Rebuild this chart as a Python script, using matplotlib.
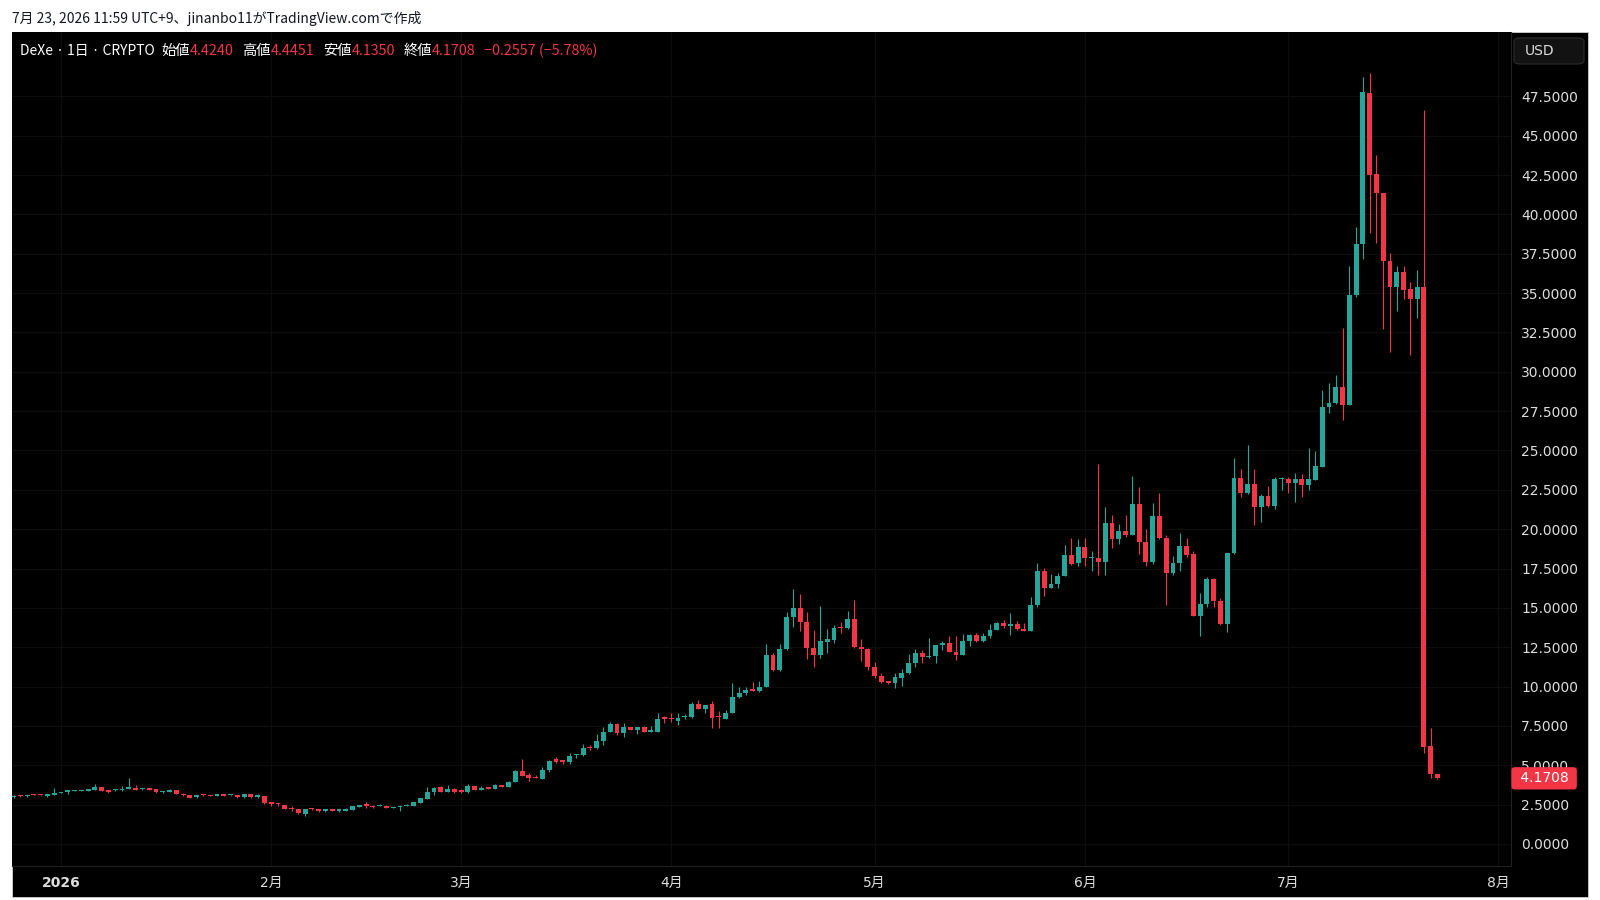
import numpy as np
import pandas as pd
import matplotlib
matplotlib.use('Agg')
import matplotlib.pyplot as plt
import matplotlib.transforms as mtransforms
from matplotlib.patches import FancyBboxPatch, Rectangle

plt.rcParams['font.family'] = ['DejaVu Sans', 'Noto Sans CJK JP']
CJK = ['Noto Sans CJK JP', 'DejaVu Sans']

# ── Data (daily candles, DeXe, 2025-12-25 .. 2026-07-23) ──────────────────────
START = '2025-12-25'

OPENS = [
    2.99, 3.07, 3.03, 3.14, 3.12, 3.03, 3.14, 3.26, 3.33, 3.37,
    3.39, 3.37, 3.45, 3.60, 3.37, 3.41, 3.41, 3.52, 3.58, 3.47,
    3.54, 3.47, 3.28, 3.33, 3.43, 3.20, 3.12, 2.96, 3.14, 3.12,
    3.05, 3.16, 3.09, 3.12, 2.96, 3.16, 2.96, 3.05, 2.65, 2.58,
    2.46, 2.27, 2.22, 1.91, 2.29, 2.20, 2.12, 2.18, 2.12, 2.12,
    2.18, 2.37, 2.48, 2.44, 2.41, 2.44, 2.31, 2.37, 2.41, 2.41,
    2.60, 2.88, 3.30, 3.60, 3.32, 3.52, 3.45, 3.28, 3.66, 3.43,
    3.58, 3.52, 3.73, 3.64, 3.96, 4.66, 4.36, 4.28, 4.15, 4.70,
    5.38, 5.32, 5.19, 5.63, 5.63, 6.18, 6.08, 6.57, 7.14, 7.62,
    7.03, 7.41, 7.24, 7.45, 7.14, 7.14, 8.05, 7.98, 7.81, 8.05,
    8.05, 8.87, 8.60, 8.87, 8.09, 7.96, 8.32, 9.32, 9.61, 9.83,
    9.74, 10.00, 12.03, 11.03, 12.37, 14.44, 14.97, 14.13, 12.45, 11.99,
    12.85, 12.96, 13.77, 13.70, 14.27, 12.49, 12.41, 11.27, 10.67, 10.33,
    10.21, 10.57, 10.84, 11.52, 12.16, 11.90, 11.97, 12.62, 12.75, 12.22,
    12.01, 12.92, 13.30, 12.92, 13.21, 13.60, 14.02, 13.87, 13.98, 13.64,
    13.53, 15.18, 17.35, 16.29, 16.50, 17.03, 18.36, 17.83, 18.89, 18.15,
    18.15, 17.94, 20.41, 19.36, 19.91, 19.63, 21.60, 19.21, 17.94, 20.84,
    19.46, 17.20, 17.83, 18.93, 18.40, 14.48, 15.25, 16.81, 15.44, 13.96,
    18.47, 23.27, 22.28, 22.85, 21.39, 22.11, 21.47, 23.17, 23.21, 22.96,
    23.17, 22.81, 23.13, 23.97, 27.78, 28.00, 29.01, 27.89, 34.88, 38.12,
    47.69, 42.55, 41.34, 37.04, 35.41, 36.36, 35.24, 34.60, 35.37, 6.23,
    4.4240,
]
HIGHS = [
    3.09, 3.08, 3.14, 3.16, 3.13, 3.18, 3.54, 3.32, 3.41, 3.43,
    3.45, 3.51, 3.81, 3.62, 3.39, 3.51, 3.70, 4.17, 3.75, 3.56,
    3.56, 3.50, 3.37, 3.50, 3.45, 3.22, 3.14, 3.11, 3.16, 3.14,
    3.18, 3.18, 3.14, 3.14, 3.18, 3.18, 3.16, 3.07, 2.67, 2.60,
    2.48, 2.41, 2.24, 2.24, 2.31, 2.22, 2.18, 2.20, 2.20, 2.29,
    2.41, 2.50, 2.65, 2.46, 2.52, 2.46, 2.37, 2.46, 2.52, 2.67,
    2.94, 3.64, 3.62, 3.68, 3.75, 3.58, 3.50, 3.79, 3.70, 3.68,
    3.62, 3.81, 3.77, 3.98, 4.70, 5.40, 4.49, 4.38, 4.87, 5.32,
    5.51, 5.36, 5.80, 5.74, 6.35, 6.29, 6.99, 7.41, 7.73, 7.66,
    7.67, 7.45, 7.43, 7.48, 7.50, 8.30, 8.13, 8.30, 8.30, 8.26,
    9.02, 9.15, 8.85, 9.09, 8.45, 8.49, 10.21, 9.95, 10.00, 10.27,
    10.38, 12.71, 12.16, 12.71, 14.72, 16.18, 15.88, 14.76, 13.60, 15.12,
    13.66, 13.91, 14.13, 14.80, 15.50, 13.02, 12.43, 11.58, 10.89, 10.38,
    10.84, 11.10, 12.07, 12.39, 12.33, 13.11, 12.66, 12.90, 13.21, 13.21,
    13.34, 13.32, 13.43, 13.43, 13.98, 14.12, 14.23, 14.65, 14.19, 14.06,
    15.71, 17.87, 17.51, 17.15, 17.24, 19.00, 19.47, 19.36, 19.47, 18.62,
    24.14, 21.43, 20.90, 20.33, 20.90, 23.38, 22.66, 19.99, 21.64, 22.28,
    19.63, 18.32, 19.74, 19.46, 18.64, 15.97, 16.98, 16.88, 15.61, 18.49,
    24.50, 23.80, 25.35, 23.80, 22.24, 22.74, 23.30, 23.34, 23.30, 23.55,
    23.49, 25.14, 24.99, 28.84, 29.27, 29.80, 32.76, 36.72, 39.18, 48.75,
    48.98, 43.77, 41.36, 37.53, 36.72, 36.72, 35.73, 36.47, 46.63, 7.39,
    4.4451,
]
LOWS = [
    2.95, 3.01, 3.01, 3.08, 3.06, 3.01, 3.12, 3.24, 3.18, 3.35,
    3.37, 3.35, 3.43, 3.35, 3.22, 3.39, 3.39, 3.50, 3.41, 3.45,
    3.43, 3.26, 3.24, 3.31, 3.16, 3.03, 2.92, 2.94, 3.07, 3.03,
    3.03, 3.05, 3.07, 2.94, 2.94, 2.94, 2.92, 2.52, 2.41, 2.41,
    2.20, 2.12, 1.93, 1.78, 2.18, 2.06, 2.05, 2.10, 2.03, 2.10,
    2.16, 2.35, 2.31, 2.31, 2.39, 2.27, 2.29, 2.12, 2.39, 2.39,
    2.58, 2.86, 3.11, 3.28, 3.30, 3.26, 3.26, 3.22, 3.41, 3.41,
    3.50, 3.50, 3.62, 3.62, 3.94, 4.30, 3.98, 4.19, 4.13, 4.57,
    5.12, 5.06, 5.06, 5.44, 5.61, 5.97, 6.06, 6.29, 7.12, 6.93,
    6.82, 7.22, 6.99, 7.12, 7.12, 7.12, 7.71, 7.73, 7.56, 7.92,
    8.03, 8.58, 8.30, 7.35, 7.35, 7.94, 8.30, 9.25, 9.47, 9.72,
    9.68, 9.98, 11.01, 11.01, 12.35, 13.77, 13.55, 11.77, 11.22, 11.80,
    12.16, 12.75, 13.43, 13.68, 12.47, 11.65, 11.05, 10.53, 10.21, 10.19,
    9.89, 10.06, 10.80, 11.27, 11.52, 11.80, 11.52, 12.33, 12.20, 11.69,
    11.99, 12.58, 12.83, 12.83, 13.06, 13.58, 13.75, 13.28, 13.62, 13.51,
    13.51, 15.04, 15.75, 16.25, 16.29, 17.01, 17.73, 17.66, 17.66, 17.34,
    17.11, 17.11, 18.83, 19.06, 19.53, 19.61, 18.40, 17.66, 17.77, 19.40,
    15.18, 17.09, 17.37, 18.25, 14.46, 13.21, 15.08, 15.08, 13.94, 13.49,
    18.45, 22.02, 22.26, 20.27, 20.48, 21.39, 21.26, 22.49, 22.28, 21.75,
    22.02, 22.49, 23.11, 23.95, 27.36, 27.98, 26.94, 27.87, 34.77, 37.17,
    38.80, 38.20, 32.70, 31.28, 33.88, 34.60, 31.06, 33.40, 5.76, 4.17,
    4.1350,
]
CLOSES = [
    3.07, 3.03, 3.12, 3.10, 3.08, 3.16, 3.26, 3.30, 3.39, 3.41,
    3.43, 3.49, 3.60, 3.37, 3.33, 3.49, 3.52, 3.60, 3.43, 3.54,
    3.45, 3.28, 3.35, 3.43, 3.18, 3.09, 2.94, 3.09, 3.09, 3.05,
    3.16, 3.07, 3.12, 2.96, 3.16, 2.96, 3.14, 2.60, 2.52, 2.52,
    2.22, 2.22, 1.95, 2.22, 2.20, 2.08, 2.16, 2.12, 2.18, 2.22,
    2.39, 2.48, 2.44, 2.37, 2.48, 2.29, 2.35, 2.44, 2.50, 2.65,
    2.90, 3.32, 3.58, 3.30, 3.47, 3.30, 3.28, 3.68, 3.43, 3.58,
    3.52, 3.73, 3.64, 3.96, 4.66, 4.34, 4.21, 4.21, 4.70, 5.29,
    5.21, 5.21, 5.61, 5.72, 6.12, 6.08, 6.57, 7.14, 7.62, 7.03,
    7.41, 7.24, 7.41, 7.14, 7.16, 7.92, 7.92, 7.92, 7.98, 8.09,
    8.87, 8.60, 8.83, 8.03, 8.05, 8.32, 9.36, 9.61, 9.78, 9.74,
    10.00, 12.03, 11.03, 12.37, 14.44, 14.97, 14.13, 12.47, 11.99, 12.88,
    13.00, 13.72, 13.70, 14.27, 12.49, 12.41, 11.27, 10.67, 10.31, 10.21,
    10.59, 10.89, 11.52, 12.16, 11.90, 11.97, 12.64, 12.75, 12.22, 12.01,
    12.92, 13.30, 12.92, 13.21, 13.60, 14.02, 13.87, 13.96, 13.64, 13.53,
    15.18, 17.35, 16.29, 16.50, 17.03, 18.36, 17.79, 18.89, 18.15, 18.21,
    17.94, 20.41, 19.36, 19.91, 19.63, 21.60, 19.17, 17.94, 20.84, 19.42,
    17.20, 17.83, 18.93, 18.36, 14.48, 15.25, 16.81, 15.44, 13.96, 18.47,
    23.27, 22.28, 22.85, 21.39, 22.11, 21.47, 23.17, 23.21, 22.96, 23.17,
    22.81, 23.17, 24.01, 27.78, 28.00, 29.01, 27.89, 34.88, 38.12, 47.75,
    42.50, 41.34, 37.04, 35.41, 36.36, 35.20, 34.60, 35.37, 6.18, 4.43,
    4.1708,
]

PRICE_TICKS = np.arange(0, 47.5 + 0.01, 2.5)
MONTH_LABELS = ['2026', '2月', '3月', '4月', '5月', '6月', '7月', '8月']
HEADER = [('始値', 'w', 5), ('4.4240', 'r', 0),
          ('高値', 'w', 6), ('4.4451', 'r', 0), ('安値', 'w', 6), ('4.1350', 'r', 0),
          ('終値', 'w', 6), ('4.1708', 'r', 0), ('−0.2557 (−5.78%)', 'r', 6)]
SYMBOL = 'DeXe · 1日 · CRYPTO'
CAPTION = '7月 23, 2026 11:59 UTC+9、jinanbo11がTradingView.comで作成'

UP = '#26A69A'
DOWN = '#F23645'
TXT = '#dedede'
GRID = '#0d0d0d'

# ── Figure ────────────────────────────────────────────────────────────────────
o, h, l, c = (np.array(a, dtype=float) for a in (OPENS, HIGHS, LOWS, CLOSES))
dates = pd.date_range(START, periods=len(c), freq='D')
origin = pd.Timestamp('2026-01-01')
x = np.asarray((dates - origin).days, dtype=float)
months = pd.date_range('2026-01-01', '2026-08-01', freq='MS')
mx = np.asarray((months - origin).days, dtype=float)

W, H = 1600, 900
fig = plt.figure(figsize=(16, 9), dpi=100, facecolor='white')
fig.patches.append(Rectangle((12 / W, 3 / H), 1576 / W, 865 / H, transform=fig.transFigure,
                             facecolor='black', edgecolor='#cfcfcf', linewidth=0.6, zorder=-1))

ax = fig.add_axes([12 / W, 34 / H, 1498.7 / W, 834 / H])
ax.set_facecolor('black')

colors = np.where(c >= o, UP, DOWN)
ax.vlines(x, l, h, colors=colors, linewidth=0.8, zorder=3)
ax.bar(x, np.maximum(np.abs(c - o), 0.07), bottom=np.minimum(o, c), width=0.72,
       color=colors, linewidth=0, zorder=4)

ax.set_xlim(-7.23, 213.8)
ax.set_ylim(-1.40, 51.59)
ax.set_yticks(PRICE_TICKS)
ax.set_yticklabels([f'{t:.4f}' for t in PRICE_TICKS])
ax.set_xticks(mx)
ax.set_xticklabels(MONTH_LABELS)
ax.yaxis.tick_right()
ax.tick_params(length=0, colors=TXT, labelsize=10)
ax.tick_params(axis='y', pad=7.5)
ax.tick_params(axis='x', pad=7)
for lab in ax.get_xticklabels():
    lab.set_family(['DejaVu Sans', 'Noto Sans CJK JP'])
ax.get_xticklabels()[0].set_fontweight('bold')
ax.grid(True, color=GRID, linewidth=0.9, zorder=0)
ax.set_axisbelow(True)
for side in ('top', 'left'):
    ax.spines[side].set_visible(False)
for side in ('bottom', 'right'):
    ax.spines[side].set_color('#222222')
    ax.spines[side].set_linewidth(0.8)

# last price label
trans = mtransforms.blended_transform_factory(ax.transAxes, ax.transData)
ax.annotate(f' {c[-1]:.4f} ', xy=(1, c[-1]), xycoords=trans, xytext=(3.5, 0),
            textcoords='offset points', ha='left', va='center', color='white', fontsize=10,
            annotation_clip=False, zorder=6,
            bbox=dict(boxstyle='round,pad=0.3,rounding_size=0.25', fc=DOWN, ec='none'))

# USD button
fig.patches.append(FancyBboxPatch((1514 / W, (H - 64) / H), 70 / W, 26 / H,
                                  boxstyle='round,pad=0,rounding_size=0.004',
                                  transform=fig.transFigure, facecolor='#121212',
                                  edgecolor='#2e2e2e', linewidth=0.8, zorder=5))
fig.text(1525 / W, 1 - 51 / H, 'USD', color=TXT, fontsize=10, va='center', zorder=6)

# header line
prev = fig.text(20 / W, 1 - 51 / H, SYMBOL, color='white', fontsize=10.0,
                va='center', family=CJK)
for txt, col, gap in HEADER:
    prev = ax.annotate(txt, xy=(1, 0.5), xycoords=prev, xytext=(gap, 0),
                       textcoords='offset points', ha='left', va='center',
                       color='white' if col == 'w' else DOWN, fontsize=10.3,
                       family=CJK, annotation_clip=False)

# caption strip
fig.text(12 / W, 1 - 19 / H, CAPTION, color='#131722', fontsize=10, va='center', family=CJK)

fig.savefig('out.png', dpi=100, facecolor='white')
